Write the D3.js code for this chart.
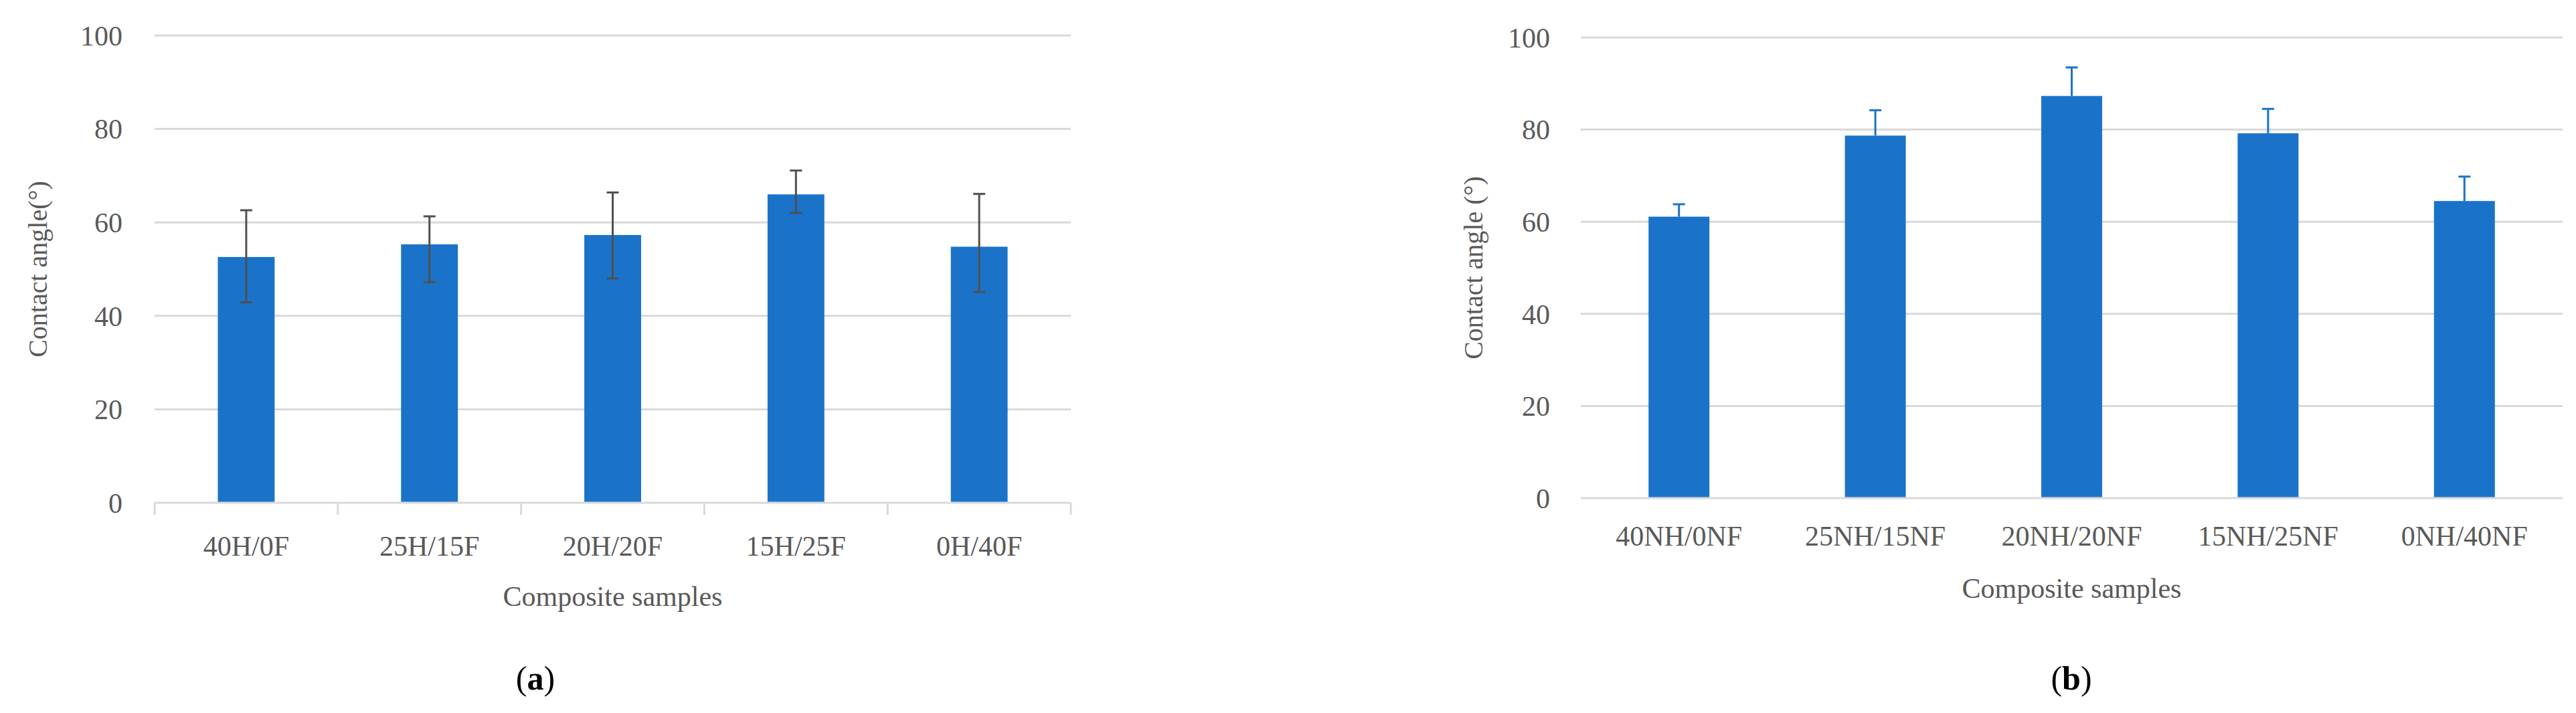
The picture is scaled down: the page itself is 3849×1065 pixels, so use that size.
<!DOCTYPE html><html><head><meta charset="utf-8"><script src="https://d3js.org/d3.v7.min.js"></script>
<style>body{margin:0;background:#fff}text{font-family:"Liberation Serif","Times New Roman",serif;fill:#595959}</style></head><body><script>
const catsA=["40H/0F","25H/15F","20H/20F","15H/25F","0H/40F"];
const valsA=[52.6,55.3,57.3,66.0,54.8];
const hiA=[62.6,61.3,66.4,71.1,66.1];
const loA=[42.9,47.2,48.0,62.0,45.1];
const catsB=["40NH/0NF","25NH/15NF","20NH/20NF","15NH/25NF","0NH/40NF"];
const valsB=[61.1,78.7,87.3,79.2,64.5];
const hiB=[63.8,84.2,93.5,84.5,69.8];
const yTicks=[0,20,40,60,80,100];
const W=3849,H=1065;
const svg=d3.select("body").append("svg").attr("width",W).attr("height",H);
function panel(o){
 const g=svg.append("g");
 const x=d3.scaleBand().domain(o.cats).range([o.x0,o.x1]);
 const y=d3.scaleLinear().domain([0,100]).range([o.y0,o.y1]);
 yTicks.forEach(t=>{g.append("line").attr("x1",o.x0).attr("x2",o.x1).attr("y1",y(t)).attr("y2",y(t)).attr("stroke","#d9d9d9").attr("stroke-width",3);
  g.append("text").attr("x",o.x0-o.tickPad).attr("y",y(t)).attr("dy","0.35em").attr("text-anchor","end").attr("font-size",42).text(t);});
 if(o.axisTicks){o.cats.concat([null]).forEach((c,i)=>{const xx=o.x0+i*x.step();g.append("line").attr("x1",xx).attr("x2",xx).attr("y1",y(0)).attr("y2",y(0)+18).attr("stroke","#d9d9d9").attr("stroke-width",3);});}
 const bw=x.bandwidth()*o.bw;
 o.cats.forEach((c,i)=>{const cx=x(c)+x.bandwidth()/2;
  g.append("rect").attr("x",cx-bw/2).attr("width",bw).attr("y",y(o.vals[i])).attr("height",y(0)-y(o.vals[i])-1.5).attr("fill","#1a73c9");
  const lo=o.lo?o.lo[i]:o.vals[i];
  g.append("line").attr("x1",cx).attr("x2",cx).attr("y1",y(o.hi[i])).attr("y2",y(lo)).attr("stroke",o.ec).attr("stroke-width",3);
  [o.hi[i]].concat(o.lo?[o.lo[i]]:[]).forEach(v=>g.append("line").attr("x1",cx-9).attr("x2",cx+9).attr("y1",y(v)).attr("y2",y(v)).attr("stroke",o.ec).attr("stroke-width",3));
  g.append("text").attr("x",cx).attr("y",o.labY).attr("text-anchor","middle").attr("font-size",42).text(c);});
 g.append("text").attr("x",(o.x0+o.x1)/2).attr("y",o.titY).attr("text-anchor","middle").attr("font-size",42).text("Composite samples");
 g.append("text").attr("transform",`translate(${o.ytX},${(o.y0+o.y1)/2}) rotate(-90)`).attr("text-anchor","middle").attr("font-size",40).text(o.ytitle);
 g.append("text").attr("x",o.capX).attr("y",1030).attr("text-anchor","middle").attr("font-size",50).style("fill","#000").html(o.cap);
}
panel({cats:catsA,vals:valsA,hi:hiA,lo:loA,x0:231,x1:1600,y0:751,y1:53,tickPad:48,axisTicks:true,bw:0.31,ec:"#505050",labY:830,titY:905,ytX:70,ytitle:"Contact angle(°)",capX:800,cap:"(<tspan font-weight='bold'>a</tspan>)"});
panel({cats:catsB,vals:valsB,hi:hiB,lo:null,x0:2362,x1:3829,y0:744,y1:56,tickPad:46,axisTicks:false,bw:0.31,ec:"#1a73c9",labY:815,titY:893,ytX:2215,ytitle:"Contact angle (°)",capX:3095,cap:"(<tspan font-weight='bold'>b</tspan>)"});
</script></body></html>
